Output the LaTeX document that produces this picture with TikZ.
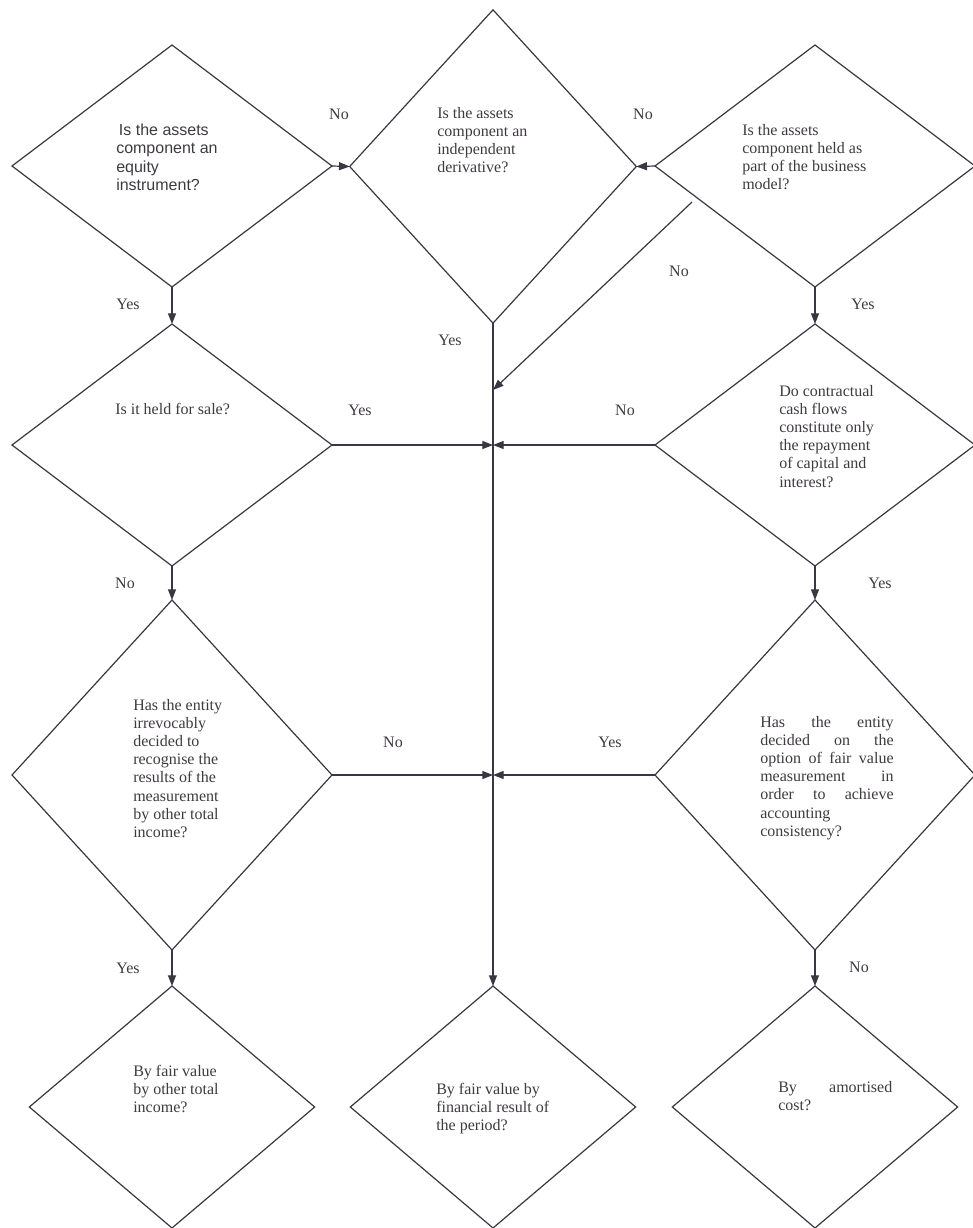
\documentclass[tikz,border=0pt]{standalone}
\usepackage{fontspec}
\setmainfont{Liberation Serif}
\setsansfont{Liberation Sans}
\usetikzlibrary{shapes.geometric, arrows.meta}

\definecolor{linec}{RGB}{58,54,66}
\definecolor{txtc}{RGB}{62,58,64}

\tikzset{
  decision/.style 2 args={diamond, draw=linec, line width=0.9pt, inner sep=0pt, outer sep=0pt,
    minimum width=#1, minimum height=#2},
  question/.style={anchor=north west, inner sep=0pt, align=left},
  flow/.style={->, draw=linec, line width=0.9pt},
  answer/.style={inner sep=0pt}
}

\begin{document}
\begin{tikzpicture}[x=0.75pt, y=-0.75pt, >={Triangle[length=8pt,width=6pt]},
  font=\fontsize{12}{13.6}\selectfont, text=txtc]
  \useasboundingbox (0,0) rectangle (973,1228);

  % Decision diamonds
  \node[decision={240pt}{181.5pt}] (equity) at (172,166) {};
  \node[decision={215pt}{235pt}] (deriv) at (493,166.5) {};
  \node[decision={240pt}{181.5pt}] (model) at (815,166) {};
  \node[decision={240pt}{181.5pt}] (sale) at (172,445) {};
  \node[decision={240pt}{181.5pt}] (cash) at (815,445) {};
  \node[decision={240pt}{262.5pt}] (irrev) at (172,775) {};
  \node[decision={240pt}{262.5pt}] (option) at (815,775) {};

  % Outcome diamonds
  \node[decision={214pt}{181.5pt}] (fvoci) at (172,1107) {};
  \node[decision={214pt}{181.5pt}] (fvpl) at (493,1107) {};
  \node[decision={214pt}{181.5pt}] (amort) at (815,1107) {};

  % Texts inside the diamonds
  \node[question, font=\sffamily\fontsize{12}{13.6}\selectfont] (tequity) at (116,124)
    {\,Is the assets\\component an\\equity\\instrument?};
  \node[question] (tderiv) at (437,107) {Is the assets\\component an\\independent\\derivative?};
  \node[question] (tmodel) at (742,124) {Is the assets\\component held as\\part of the business\\model?};
  \node[question] (tsale) at (115,403) {Is it held for sale?};
  \node[question] (tcash) at (779,385)
    {Do contractual\\cash flows\\constitute only\\the repayment\\of capital and\\interest?};
  \node[question] (tirrev) at (133,699)
    {Has the entity\\irrevocably\\decided to\\recognise the\\results of the\\measurement\\by other total\\income?};
  \node[question, align=justify, text width=100pt] (toption) at (760,716)
    {Has\hfill the\hfill entity\\decided\hfill on\hfill the\\option\hfill of\hfill fair\hfill value\\measurement\hfill in\\order\hfill to\hfill achieve\\accounting\\consistency?};
  \node[question] (tfvoci) at (133,1065) {By fair value\\by other total\\income?};
  \node[question] (tfvpl) at (436,1083) {By fair value by\\financial result of\\the period?};
  \node[question, align=justify, text width=85.5pt] (tamort) at (778,1081) {By\hfill amortised\\cost?};

  % Junctions on the middle line
  \coordinate (jderiv) at (493,390);
  \coordinate (jsale) at (deriv.south |- sale.east);
  \coordinate (jirrev) at (deriv.south |- irrev.east);
  \coordinate (nofree) at (692,202);

  % Connectors
  \draw[flow] (equity.east) -- (deriv.west);
  \draw[flow] (model.west) -- (deriv.east);
  \draw[flow] (nofree) -- (jderiv);
  \draw[flow] (equity.south) -- (sale.north);
  \draw[flow] (sale.south) -- (irrev.north);
  \draw[flow] (irrev.south) -- (fvoci.north);
  \draw[flow] (model.south) -- (cash.north);
  \draw[flow] (cash.south) -- (option.north);
  \draw[flow] (option.south) -- (amort.north);
  \draw[flow] (deriv.south) -- (fvpl.north);
  \draw[flow] (sale.east) -- (jsale);
  \draw[flow] (cash.west) -- (jsale);
  \draw[flow] (irrev.east) -- (jirrev);
  \draw[flow] (option.west) -- (jirrev);

  % Yes / No labels
  \node[answer] (a1) at (339,114) {No};
  \node[answer] (a2) at (643,114) {No};
  \node[answer] (a3) at (679,271) {No};
  \node[answer] (a4) at (128,304) {Yes};
  \node[answer] (a5) at (863,304) {Yes};
  \node[answer] (a6) at (450,340) {Yes};
  \node[answer] (a7) at (360,410) {Yes};
  \node[answer] (a8) at (625,410) {No};
  \node[answer] (a9) at (125,583) {No};
  \node[answer] (a10) at (880,583) {Yes};
  \node[answer] (a11) at (393,742) {No};
  \node[answer] (a12) at (610,742) {Yes};
  \node[answer] (a13) at (128,968) {Yes};
  \node[answer] (a14) at (859,967) {No};
\end{tikzpicture}
\end{document}
